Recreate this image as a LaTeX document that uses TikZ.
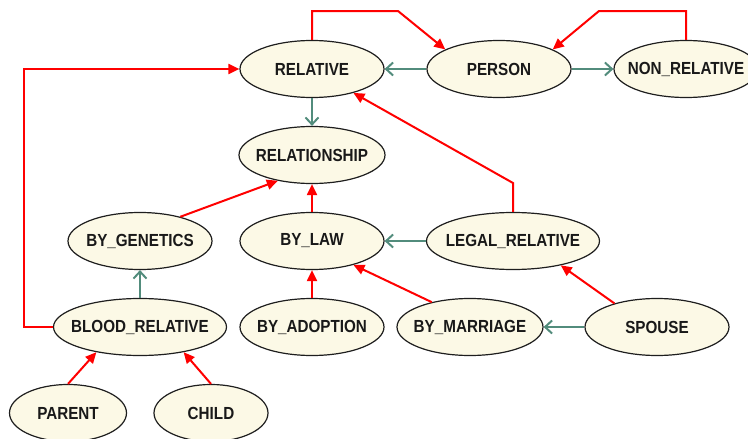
\documentclass[tikz,border=0pt]{standalone}
\usepackage{fontspec}
\newfontfamily\lblfont[FakeStretch=0.87]{Liberation Sans}
\usetikzlibrary{shapes.geometric,arrows.meta}
\definecolor{nodefill}{RGB}{252,249,230}
\definecolor{edgegreen}{RGB}{82,140,124}
\definecolor{edgered}{RGB}{255,0,0}
\definecolor{border}{RGB}{30,30,30}
\newcommand{\lbl}[1]{\hbox to 0pt{\hss #1\hss}}
\tikzset{
  concept/.style={ellipse, draw=border, line width=1.2pt, fill=nodefill, inner sep=0pt,
    minimum height=57pt, minimum width=#1,
    font=\lblfont\bfseries\fontsize{17.5}{20}\selectfont, text=black!90},
  concept/.default=144pt,
  isa/.style={draw=edgegreen, line width=2pt, -{Straight Barb[length=7pt,width=13pt,line width=2pt]}},
  rel/.style={draw=edgered, line width=2pt, -{Triangle[length=11pt,width=10pt]}},
}
\begin{document}
\begin{tikzpicture}[x=1pt,y=-1pt]
\useasboundingbox (0,0) rectangle (748,439);
\node[concept] (rel) at (312,69) {\lbl{RELATIVE}};
\node[concept] (per) at (499,69) {\lbl{PERSON}};
\node[concept] (nonrel) at (686,69) {\lbl{NON\_RELATIVE}};
\node[concept=146pt] (relship) at (312,155) {\lbl{RELATIONSHIP}};
\node[concept] (bygen) at (140,241) {\lbl{BY\_GENETICS}};
\node[concept] (bylaw) at (312,241) {\lbl{BY\_LAW}};
\node[concept=173pt] (legal) at (513,241) {\lbl{LEGAL\_RELATIVE}};
\node[concept=173pt] (blood) at (140,327) {\lbl{BLOOD\_RELATIVE}};
\node[concept] (byadop) at (312,327) {\lbl{BY\_ADOPTION}};
\node[concept=146pt] (bymar) at (470,327) {\lbl{BY\_MARRIAGE}};
\node[concept] (spouse) at (657,327) {\lbl{SPOUSE}};
\node[concept=117pt] (parent) at (68,413) {\lbl{PARENT}};
\node[concept=114pt] (child) at (211,413) {\lbl{CHILD}};

\coordinate (c1) at (312,11);
\coordinate (c2) at (398,11);
\coordinate (c3) at (686,11);
\coordinate (c4) at (599,11);
\coordinate (c5) at (24,327);
\coordinate (c6) at (24,69);
\coordinate (c7) at (513,183);

% green is-a edges
\draw[isa] (per.west) -- (rel.east);
\draw[isa] (per.east) -- (nonrel.west);
\draw[isa] (rel.south) -- (relship.north);
\draw[isa] (blood.north) -- (bygen.south);
\draw[isa] (legal.west) -- (bylaw.east);
\draw[isa] (spouse.west) -- (bymar.east);

% red relation edges
\draw[rel] (rel.north) -- (c1) -- (c2) -- (per.160);
\draw[rel] (nonrel.north) -- (c3) -- (c4) -- (per.20);
\draw[rel] (blood.west) -- (c5) -- (c6) -- (rel.west);
\draw[rel] (legal.north) -- (c7) -- (rel.330);
\draw[rel] (bygen.31) -- (relship.217);
\draw[rel] (bylaw.north) -- (relship.south);
\draw[rel] (byadop.north) -- (bylaw.south);
\draw[rel] (bymar.147) -- (bylaw.330);
\draw[rel] (spouse.151) -- (legal.333);
\draw[rel] (parent.north) -- (blood.210);
\draw[rel] (child.north) -- (blood.330);
\end{tikzpicture}
\end{document}
